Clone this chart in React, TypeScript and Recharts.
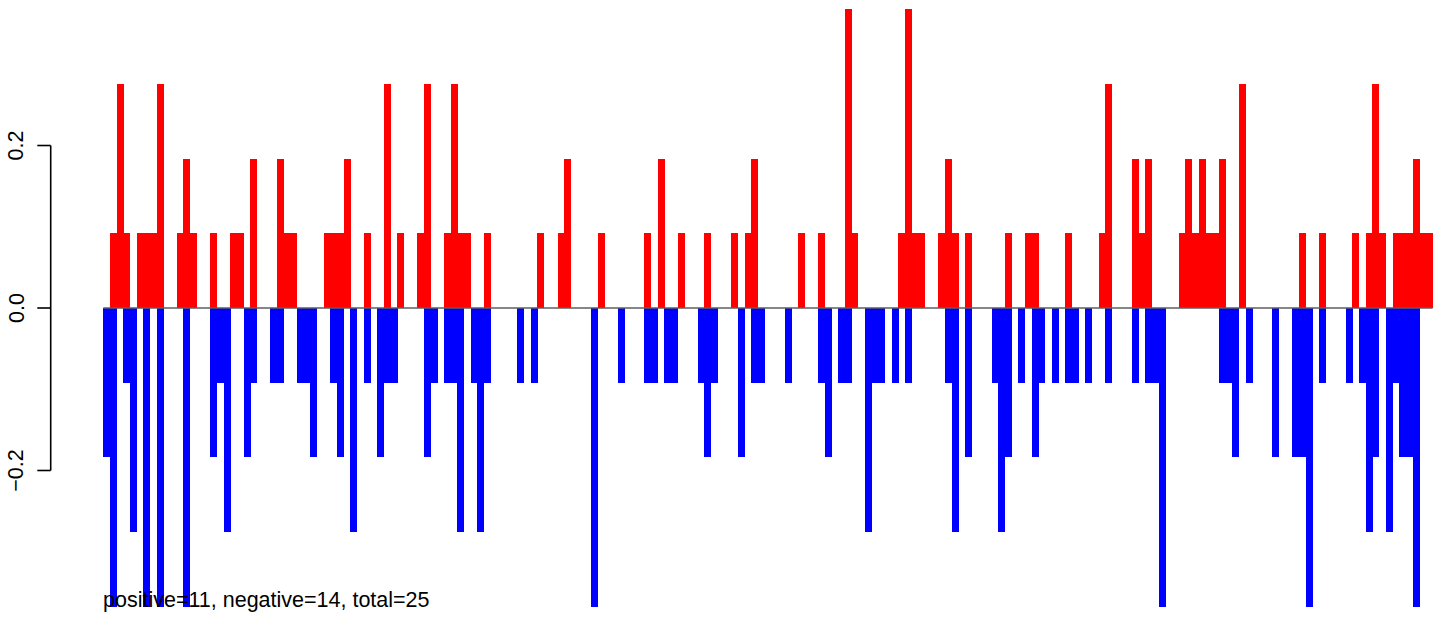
import React from "react";
import { BarChart, Bar, XAxis, YAxis, ReferenceLine } from "recharts";

// values read per bar, left to right (199 bars)
const UP = [
  0, .092, .276, .092, 0, .092, .092, .092, .276, 0,
  0, .092, .184, .092, 0, 0, .092, 0, 0, .092,
  .092, 0, .184, 0, 0, 0, .184, .092, .092, 0,
  0, 0, 0, .092, .092, .092, .184, 0, 0, .092,
  0, 0, .276, 0, .092, 0, 0, .092, .276, 0,
  0, .092, .276, .092, .092, 0, 0, .092, 0, 0,
  0, 0, 0, 0, 0, .092, 0, 0, .092, .184,
  0, 0, 0, 0, .092, 0, 0, 0, 0, 0,
  0, .092, 0, .184, 0, 0, .092, 0, 0, 0,
  .092, 0, 0, 0, .092, 0, .092, .184, 0, 0,
  0, 0, 0, 0, .092, 0, 0, .092, 0, 0,
  0, .368, .092, 0, 0, 0, 0, 0, 0, .092,
  .368, .092, .092, 0, 0, .092, .184, .092, 0, .092,
  0, 0, 0, 0, 0, .092, 0, 0, .092, .092,
  0, 0, 0, 0, .092, 0, 0, 0, 0, .092,
  .276, 0, 0, 0, .184, .092, .184, 0, 0, 0,
  0, .092, .184, .092, .184, .092, .092, .184, 0, 0,
  .276, 0, 0, 0, 0, 0, 0, 0, 0, .092,
  0, 0, .092, 0, 0, 0, 0, .092, 0, .092,
  .276, .092, 0, .092, .092, .092, .184, .092, .092,
];

const DOWN = [
  -.184, -.368, 0, -.092, -.276, 0, -.368, 0, -.368, 0,
  0, 0, -.368, 0, 0, 0, -.184, -.092, -.276, 0,
  0, -.184, -.092, 0, 0, -.092, -.092, 0, 0, -.092,
  -.092, -.184, 0, 0, -.092, -.184, 0, -.276, 0, -.092,
  0, -.184, -.092, -.092, 0, 0, 0, 0, -.184, -.092,
  0, -.092, -.092, -.276, 0, -.092, -.276, -.092, 0, 0,
  0, 0, -.092, 0, -.092, 0, 0, 0, 0, 0,
  0, 0, 0, -.368, 0, 0, 0, -.092, 0, 0,
  0, -.092, -.092, 0, -.092, -.092, 0, 0, 0, -.092,
  -.184, -.092, 0, 0, 0, -.184, 0, -.092, -.092, 0,
  0, 0, -.092, 0, 0, 0, 0, -.092, -.184, 0,
  -.092, -.092, 0, 0, -.276, -.092, -.092, 0, -.092, 0,
  -.092, 0, 0, 0, 0, 0, -.092, -.276, 0, -.184,
  0, 0, 0, -.092, -.276, -.184, 0, -.092, 0, -.184,
  -.092, 0, -.092, 0, -.092, -.092, 0, -.092, 0, 0,
  -.092, 0, 0, 0, -.092, 0, -.092, -.092, -.368, 0,
  0, 0, 0, 0, 0, 0, 0, -.092, -.092, -.184,
  0, -.092, 0, 0, 0, -.184, 0, 0, -.184, -.184,
  -.368, 0, -.092, 0, 0, 0, -.092, 0, -.092, -.276,
  -.184, 0, -.276, -.092, -.184, -.184, -.368, 0, 0,
];

const Y_TICKS = [-0.2, 0, 0.2];
const NOTE = "positive=11, negative=14, total=25";

const ROWS = UP.map((u, i) => ({ i, pos: u, neg: DOWN[i] }));

const W = 1444;
const H = 618;
const PLOT_LEFT = 103.3;
const PLOT_RIGHT = 1432.6;
const PLOT_TOP = 7.4;
const PLOT_BOTTOM = 608.6;
const Y_MIN = -0.37;
const Y_MAX = 0.37;
const PX_PER_UNIT = (PLOT_BOTTOM - PLOT_TOP) / (Y_MAX - Y_MIN);
const AXIS_X = 50.7;
const FONT = "'Liberation Sans', Arial, Helvetica, sans-serif";

function AxisTick(props: any) {
  const { y, payload } = props;
  const v: number = payload.value;
  const label = v.toFixed(1).replace("-", "\u2212");
  return (
    <g>
      {v !== 0 && (
        <line x1={AXIS_X} x2={AXIS_X} y1={y} y2={y + v * PX_PER_UNIT} stroke="#000" strokeWidth={1.6} />
      )}
      <line x1={AXIS_X - 13.4} x2={AXIS_X} y1={y} y2={y} stroke="#000" strokeWidth={1.6} />
      <text
        x={23.5}
        y={y}
        transform={`rotate(-90 23.5 ${y})`}
        textAnchor="middle"
        fontSize={21.5}
        fontFamily={FONT}
        fill="#000"
      >
        {label}
      </text>
    </g>
  );
}

export default function App() {
  return (
    <div style={{ position: "absolute", left: 0, top: 0, width: W, height: H, background: "#fff" }}>
      <BarChart
        width={W}
        height={H}
        data={ROWS}
        stackOffset="sign"
        barCategoryGap={0}
        barGap={0}
        margin={{ top: PLOT_TOP, right: W - PLOT_RIGHT, bottom: H - PLOT_BOTTOM, left: 0 }}
      >
        <XAxis dataKey="i" hide />
        <YAxis
          type="number"
          domain={[Y_MIN, Y_MAX]}
          ticks={Y_TICKS}
          width={PLOT_LEFT}
          axisLine={false}
          tickLine={false}
          tick={AxisTick}
          interval={0}
        />
        <Bar dataKey="pos" stackId="s" fill="#ff0000" isAnimationActive={false} shapeRendering="crispEdges" />
        <Bar dataKey="neg" stackId="s" fill="#0000ff" isAnimationActive={false} shapeRendering="crispEdges" />
        <ReferenceLine y={0} stroke="#5e5e5e" strokeWidth={1.4} />
      </BarChart>
      <svg width={W} height={H} style={{ position: "absolute", left: 0, top: 0, pointerEvents: "none" }}>
        <text x={103} y={607} fontSize={21.5} fontFamily={FONT} fill="#000">
          {NOTE}
        </text>
      </svg>
    </div>
  );
}
